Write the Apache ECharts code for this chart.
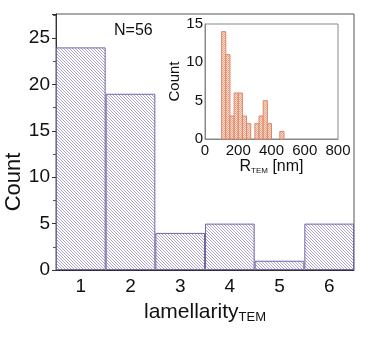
<!DOCTYPE html>
<html><head><meta charset="utf-8">
<script src="https://cdn.jsdelivr.net/npm/echarts@6/dist/echarts.min.js"></script>
<style>html,body{margin:0;padding:0;background:#fff}#c{width:378px;height:337px}</style>
</head><body><div id="c"></div>
<script>
// main histogram data
const lamCategories = ['1','2','3','4','5','6'];
const lamCounts = [24, 19, 4, 5, 1, 5];
// inset histogram data (R_TEM bins, 25 nm wide)
const rBinStart = [100,125,150,175,200,225,250,275,300,325,350,375,400,425,450];
const rCounts   = [14, 11, 3, 6, 6, 3, 2, 0, 2, 3, 5, 2, 0, 0, 1];
const rBinWidth = 25;
const insetXTicks = [0,200,400,600,800];

const FONT = "'Liberation Sans', Arial, sans-serif";

function mainHatch(){
  const c=document.createElement('canvas'); c.width=3; c.height=3;
  const g=c.getContext('2d'); g.fillStyle='#ffffff'; g.fillRect(0,0,3,3);
  g.fillStyle='#aca8d0'; for(let i=0;i<3;i++) g.fillRect(i,i,1,1);
  return c;
}
function insetHatch(){
  const c=document.createElement('canvas'); c.width=2; c.height=2;
  const g=c.getContext('2d'); g.fillStyle='#fcdccc'; g.fillRect(0,0,2,2);
  g.fillStyle='#eea78a'; g.fillRect(0,0,1,1); g.fillRect(1,1,1,1);
  return c;
}
const mainPat = {image: mainHatch(), repeat:'repeat'};
const insetPat = {image: insetHatch(), repeat:'repeat'};

const chart = echarts.init(document.getElementById('c'), null, {renderer:'canvas'});
chart.setOption({
  animation:false,
  textStyle:{fontFamily:FONT},
  grid:[
    {left:56, right:24, top:14, bottom:67, show:true, borderColor:'#555', borderWidth:1, backgroundColor:'transparent'},
    {left:205, right:40, top:24, bottom:198, show:true, borderColor:'#888', borderWidth:1, backgroundColor:'#fff'}
  ],
  xAxis:[
    {type:'category', gridIndex:0, data:lamCategories,
     axisLine:{lineStyle:{color:'#333', width:1}},
     axisTick:{alignWithLabel:true, length:4, lineStyle:{color:'#333'}},
     axisLabel:{fontSize:19, color:'#111', margin:7, fontFamily:FONT},
     name:'{a|lamellarity}{b|TEM}', nameLocation:'middle', nameGap:26,
     nameTextStyle:{rich:{a:{fontSize:21, color:'#111', fontFamily:FONT, lineHeight:24},
                          b:{fontSize:13, color:'#111', fontFamily:FONT, padding:[10,0,0,0], lineHeight:24}}},
     splitLine:{show:false}, z:5},
    {type:'category', gridIndex:0, data:lamCategories, position:'bottom',
     axisLine:{show:false}, axisLabel:{show:false},
     axisTick:{alignWithLabel:false, length:3, lineStyle:{color:'#333'}}, splitLine:{show:false}},
    {type:'value', gridIndex:1, min:0, max:800, interval:200,
     axisLine:{lineStyle:{color:'#888'}}, axisTick:{show:false},
     axisLabel:{fontSize:15, color:'#111', margin:4, fontFamily:FONT, customValues:insetXTicks},
     name:'{a|R}{b|TEM}{a| [nm]}', nameLocation:'middle', nameGap:19,
     nameTextStyle:{rich:{a:{fontSize:16, color:'#111', fontFamily:FONT, lineHeight:18},
                          b:{fontSize:8, color:'#111', fontFamily:FONT, padding:[8,0,0,0], lineHeight:18}}},
     splitLine:{show:false}}
  ],
  yAxis:[
    {type:'value', gridIndex:0, min:0, max:27.6, interval:5,
     axisLine:{show:true, lineStyle:{color:'#333'}},
     axisTick:{show:true, inside:false, length:4, lineStyle:{color:'#333'}},
     minorTick:{show:true, splitNumber:2, length:3, lineStyle:{color:'#555'}},
     axisLabel:{fontSize:19, color:'#111', margin:6, showMaxLabel:false, fontFamily:FONT},
     splitLine:{show:false}, minorSplitLine:{show:false}},
    {type:'value', gridIndex:1, min:0, max:15, interval:5,
     axisLine:{show:true, lineStyle:{color:'#888'}}, axisTick:{show:false},
     axisLabel:{fontSize:15, color:'#111', margin:2, fontFamily:FONT},
     name:'Count', nameLocation:'middle', nameGap:21,
     nameTextStyle:{fontSize:15, color:'#111', fontFamily:FONT},
     splitLine:{show:false}}
  ],
  graphic:[
    {type:'text', left:114, top:23, style:{text:'N=56', fontSize:16, fill:'#111', font:"16px 'Liberation Sans', Arial"}},
    {type:'text', x:14, y:182, rotation:Math.PI/2,
     style:{text:'Count', fill:'#111', font:"22px 'Liberation Sans', Arial", textAlign:'center', textVerticalAlign:'middle'}}
  ],
  series:[
    {type:'bar', xAxisIndex:0, yAxisIndex:0, data:lamCounts, barCategoryGap:'0%',
     itemStyle:{color:mainPat, borderColor:'#6e67a6', borderWidth:1}, silent:true},
    {type:'custom', xAxisIndex:2, yAxisIndex:1,
     data:rBinStart.map((s,i)=>[s, rCounts[i]]),
     renderItem:function(params, api){
       const s=api.value(0), v=api.value(1);
       if(!v) return null;
       const p0=api.coord([s,0]); const p1=api.coord([s+rBinWidth, v]);
       return {type:'rect', shape:{x:p0[0], y:p1[1], width:p1[0]-p0[0], height:p0[1]-p1[1]},
               style:{fill:insetPat, stroke:'#d9876a', lineWidth:1}};
     }, silent:true, z:3}
  ]
});
</script></body></html>
